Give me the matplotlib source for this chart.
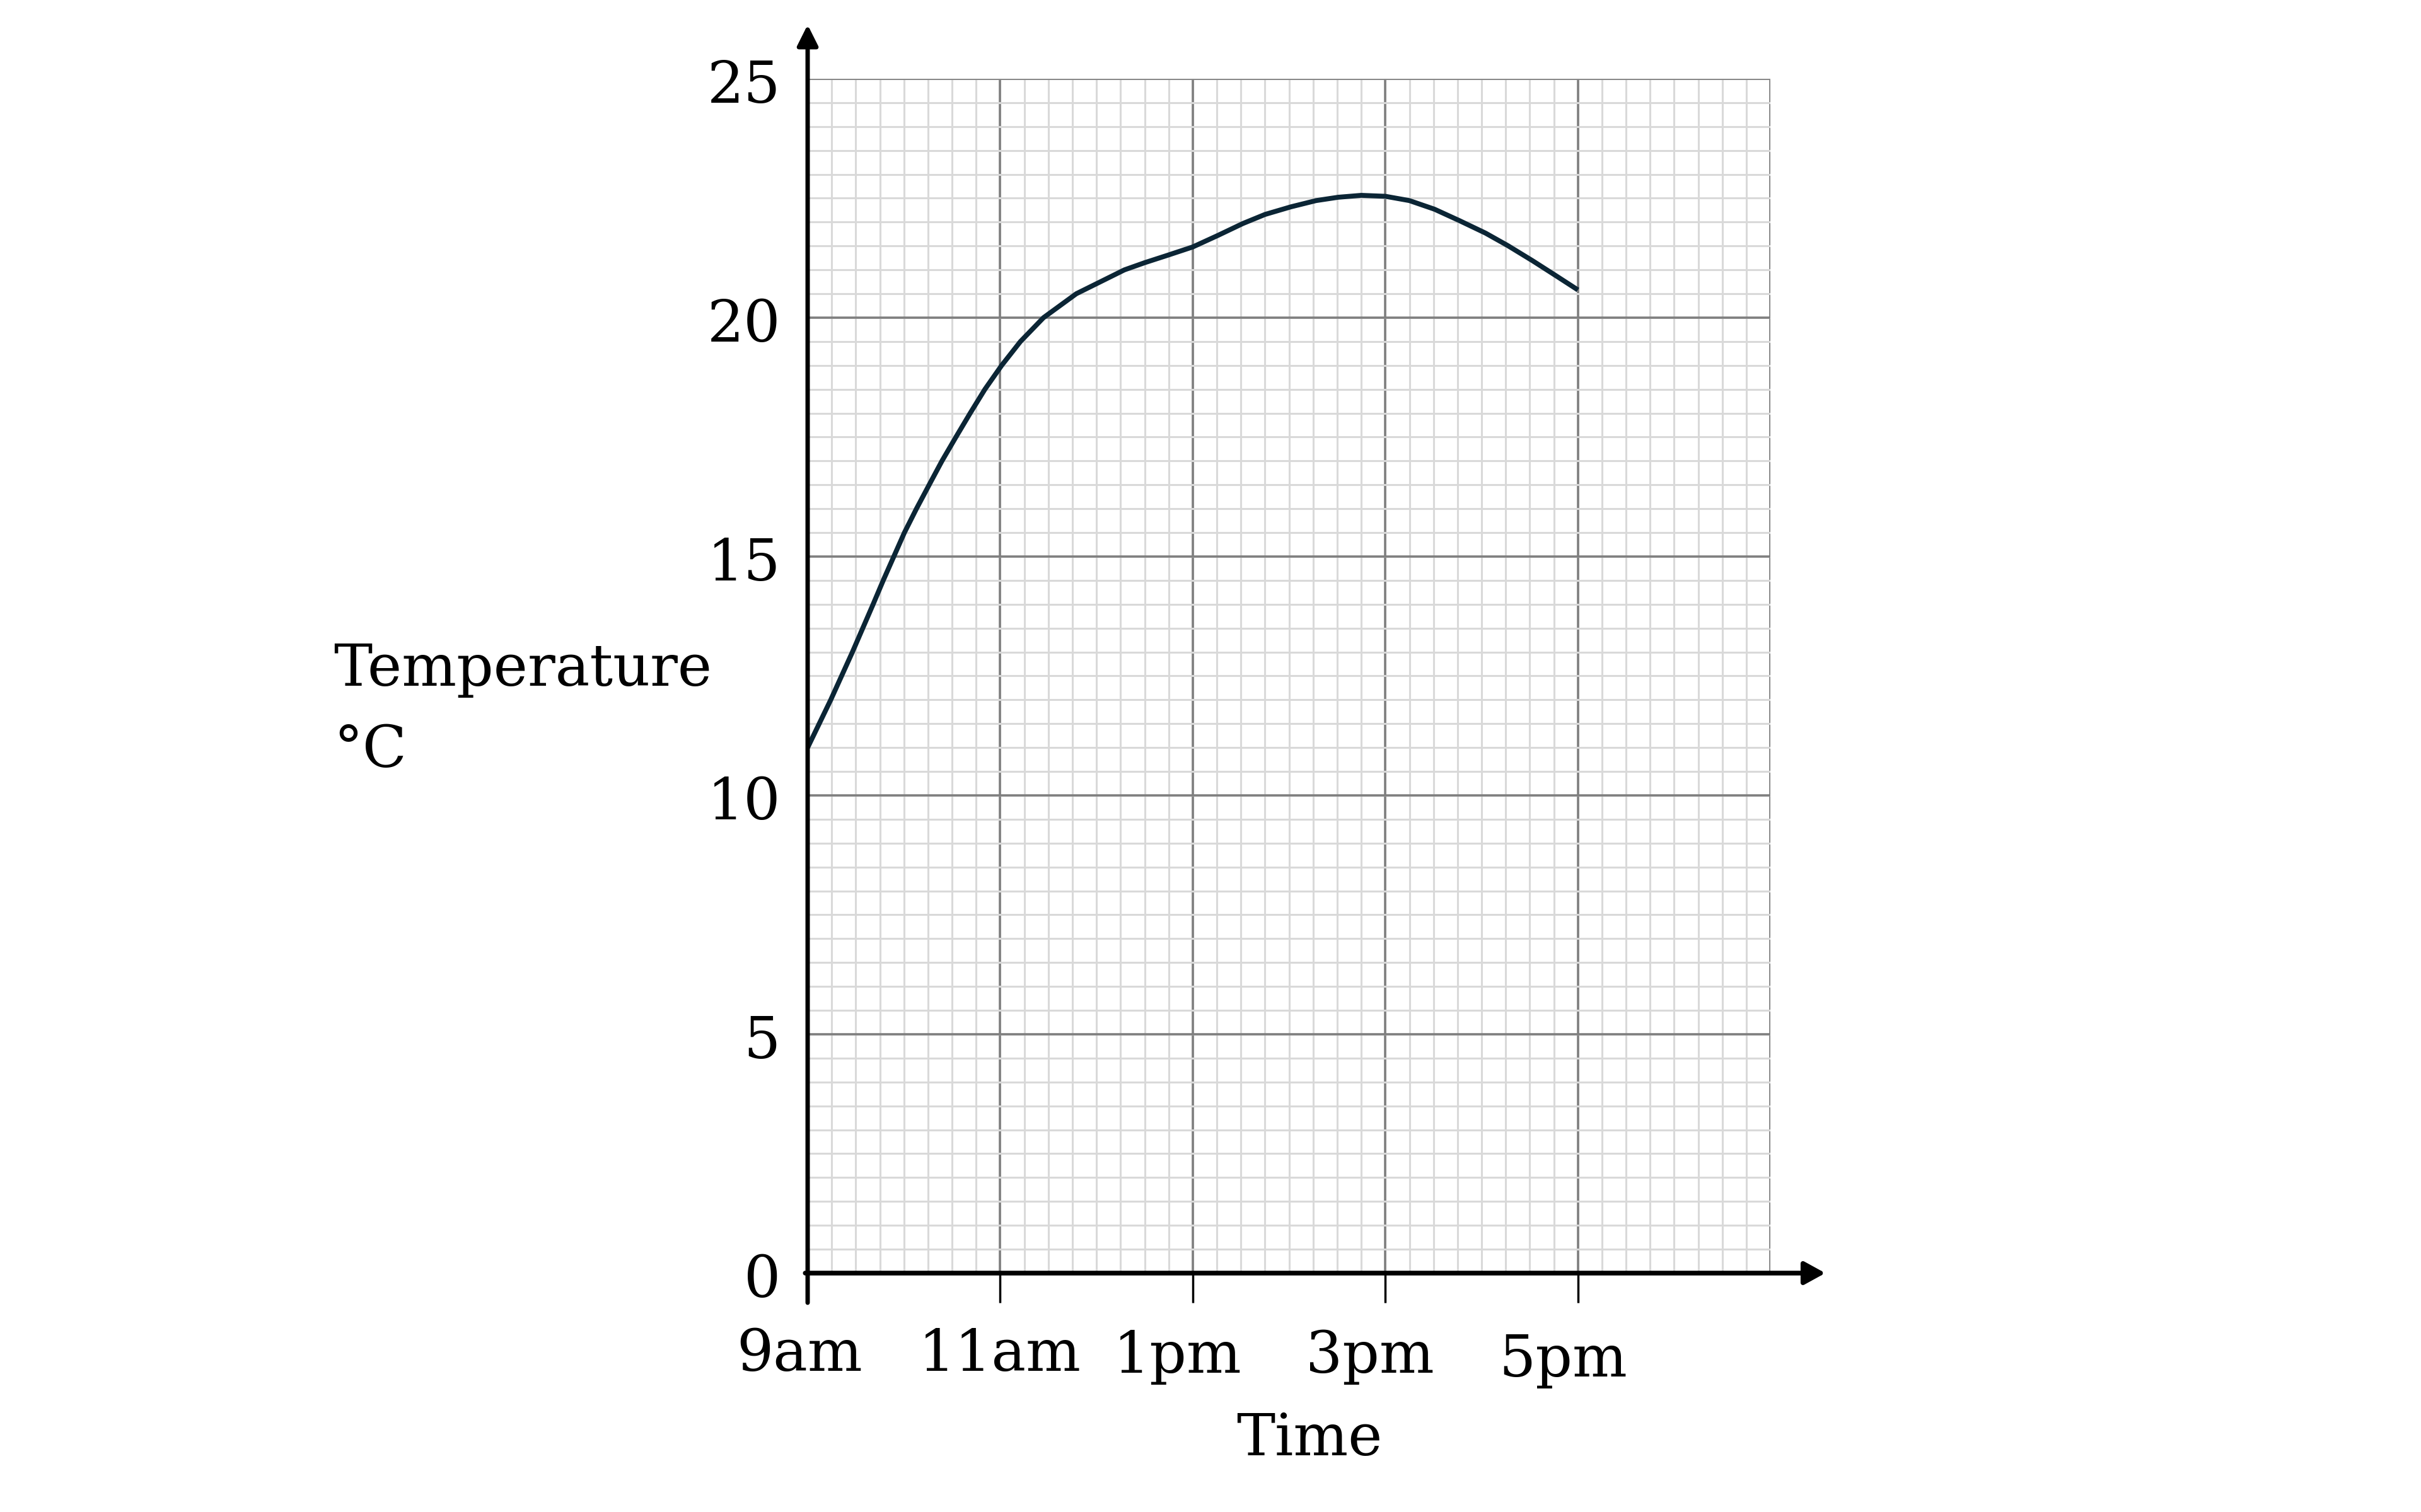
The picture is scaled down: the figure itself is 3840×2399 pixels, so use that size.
import numpy as np
import matplotlib
matplotlib.use("Agg")
import matplotlib.pyplot as plt

# values (hours since midnight, degrees C)
times = [9.0, 9.24, 9.465, 9.68, 9.785, 9.895, 10.005, 10.13, 10.262, 10.395,
         10.54, 10.688, 10.841, 11.015, 11.21, 11.45, 11.79, 12.0, 12.29,
         12.5, 12.73, 13.0, 13.26, 13.52, 13.75, 14.02, 14.28, 14.51, 14.75,
         15.0, 15.25, 15.51, 15.77, 16.04, 16.27, 16.53, 16.77, 17.0]
temps = [11.0, 12.0, 13.0, 14.0, 14.5, 15.0, 15.5, 16.0, 16.5, 17.0,
         17.5, 18.0, 18.5, 19.0, 19.5, 20.0, 20.5, 20.71, 21.0,
         21.15, 21.3, 21.48, 21.72, 21.97, 22.16, 22.32, 22.45, 22.52, 22.56,
         22.54, 22.45, 22.27, 22.03, 21.77, 21.51, 21.19, 20.88, 20.58]

x_ticks = [9, 11, 13, 15, 17]
x_labels = ["9am", "11am", "1pm", "3pm", "5pm"]
y_ticks = [0, 5, 10, 15, 20, 25]

plt.rcParams['font.family'] = ['DejaVu Serif']
fs = 66

fig = plt.figure(figsize=(38.4, 23.99), dpi=100)
ax = fig.add_axes([0.3336, 0.158, 0.3977, 0.7899])
ax.set_xlim(9, 19)
ax.set_ylim(0, 25)
for s in ax.spines.values():
    s.set_visible(False)

# graph paper
minor_c = '#d9d9d9'
major_c = '#7f7f7f'
ax.vlines(np.arange(9, 19.01, 0.25), 0, 25, color=minor_c, lw=2.2, zorder=1)
ax.vlines(np.arange(9, 19.01, 2), 0, 25, color=major_c, lw=2.6, zorder=2)
ax.hlines(np.arange(0, 25.01, 0.5), 9, 19, color=minor_c, lw=2.2, zorder=3)
ax.hlines(np.arange(0, 25.01, 5), 9, 19, color=major_c, lw=2.6, zorder=4)

# temperature curve
ax.plot(times, temps, color='#0b2535', lw=5.6, solid_capstyle='butt',
        solid_joinstyle='round', zorder=6)

# axes with arrows
ax.annotate('', xy=(19.57, 0), xytext=(8.975, 0),
            arrowprops=dict(arrowstyle='-|>,head_length=1.0,head_width=0.55',
                            lw=5.4, color='black', shrinkA=0, shrinkB=0,
                            mutation_scale=20),
            annotation_clip=False, zorder=8)
ax.annotate('', xy=(9, 26.13), xytext=(9, -0.62),
            arrowprops=dict(arrowstyle='-|>,head_length=1.0,head_width=0.5',
                            lw=5.0, color='black', shrinkA=0, shrinkB=0,
                            mutation_scale=20),
            annotation_clip=False, zorder=8)

ax.set_xticks(x_ticks)
ax.set_xticklabels([])
ax.set_yticks([])
ax.tick_params(axis='x', direction='out', length=34, width=2.5, color='black')

# tick labels placed like the hand-set ones in the picture
dx = [-0.085, -0.006, -0.157, -0.157, -0.157]
dy = [0.0, 0.0, -0.04, -0.04, -0.12]
for t, lab, ox, oy in zip(x_ticks, x_labels, dx, dy):
    ax.text(t + ox, -2.045 + oy, lab, ha='center', va='baseline', fontsize=fs,
            clip_on=False)
for v in y_ticks:
    ax.text(-0.0282, v - 0.5, str(v), transform=ax.get_yaxis_transform(),
            ha='right', va='baseline', fontsize=fs, clip_on=False)

fig.text(0.5409, 0.0375, 'Time', ha='center', va='baseline', fontsize=fs)
fig.text(0.1378, 0.5465, 'Temperature', ha='left', va='baseline', fontsize=fs)
fig.text(0.1378, 0.4927, '°C', ha='left', va='baseline', fontsize=fs)

fig.savefig('out.png', dpi=100, facecolor='white')
